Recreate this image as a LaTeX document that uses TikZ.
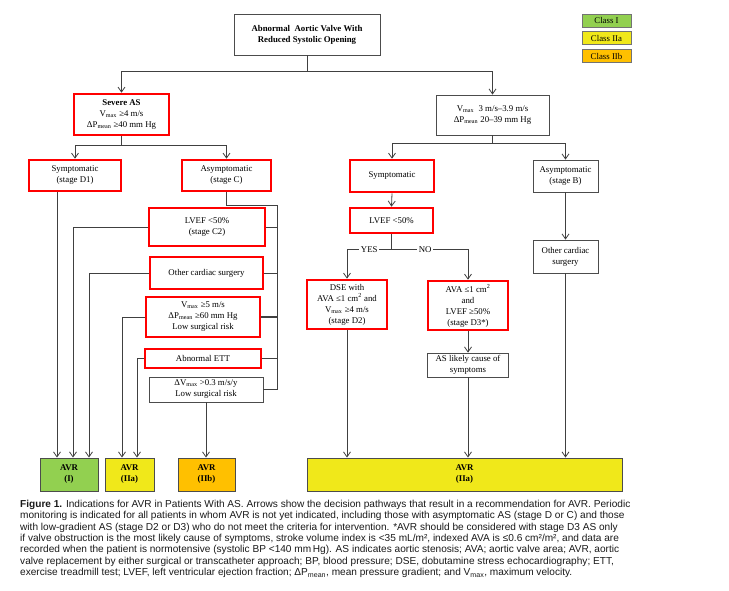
\documentclass[tikz,border=0pt]{standalone}
\usepackage{fontspec}
\setmainfont{Liberation Serif}
\newfontfamily\capfont{Liberation Sans}
\usepackage{xcolor}
\usetikzlibrary{arrows.meta}
\definecolor{clsI}{HTML}{92D050}
\definecolor{clsIIa}{HTML}{F0E81A}
\definecolor{clsIIb}{HTML}{FFC000}
\newcommand{\sbs}[1]{\textsubscript{#1}}

\begin{document}
\begin{tikzpicture}[x=1pt,y=-1pt,
  every node/.style={font=\fontsize{8.8}{11}\selectfont, align=center, inner sep=0pt},
  box/.style={draw=black!70, line width=0.8pt},
  redbox/.style={draw=red, line width=2.6pt},
  avr/.style={draw=black!70, line width=0.9pt, minimum height=33pt, font=\fontsize{8.8}{11}\selectfont\bfseries},
  lgd/.style={draw=black!55, line width=0.9pt, minimum width=49pt, minimum height=13pt},
  conn/.style={draw=black!75, line width=0.8pt},
  arr/.style={conn, -{Straight Barb[length=5pt,width=7pt]}}]
  \useasboundingbox (0,0) rectangle (729,590);

  % boxes
  \node[box, minimum width=146pt, minimum height=41pt, font=\fontsize{8.8}{11}\selectfont\bfseries] (top) at (307,34.5) {Abnormal\ \ Aortic Valve With\\Reduced Systolic Opening};
  \node[redbox, minimum width=95pt, minimum height=41pt] (severe) at (121.5,114.5) {\textbf{Severe AS}\\V\sbs{max} ≥4 m/s\\ΔP\sbs{mean} ≥40 mm Hg};
  \node[box, minimum width=113pt, minimum height=40pt] (moderate) at (492.5,115) {V\sbs{max}\ \ 3 m/s–3.9 m/s\\ΔP\sbs{mean} 20–39 mm Hg};
  \node[redbox, minimum width=92pt, minimum height=31pt] (sympD1) at (75,175.5) {Symptomatic\\(stage D1)};
  \node[redbox, minimum width=89pt, minimum height=31pt] (asympC) at (226.5,175.5) {Asymptomatic\\(stage C)};
  \node[redbox, minimum width=84pt, minimum height=32pt] (sympR) at (392,176) {Symptomatic};
  \node[box, minimum width=65pt, minimum height=32pt] (asympB) at (565.5,176) {Asymptomatic\\(stage B)};

  \node[redbox, minimum width=116pt, minimum height=38pt] (lvefC2) at (207,227) {LVEF <50\%\\(stage C2)};
  \node[redbox, minimum width=113pt, minimum height=32pt] (othsurgL) at (206.5,273) {Other cardiac surgery};
  \node[redbox, minimum width=114pt, minimum height=40pt] (vmax5) at (203,317) {V\sbs{max} ≥5 m/s\\ΔP\sbs{mean} ≥60 mm Hg\\Low surgical risk};
  \node[redbox, minimum width=116pt, minimum height=19pt] (ett) at (203,358.5) {Abnormal ETT};
  \node[box, minimum width=114pt, minimum height=25pt] (dvmax) at (206,389.5) {ΔV\sbs{max} >0.3 m/s/y\\Low surgical risk};

  \node[redbox, minimum width=83pt, minimum height=25pt] (lvefR) at (391.5,220.5) {LVEF <50\%};
  \node[redbox, minimum width=80pt, minimum height=49pt] (dse) at (347,304.5) {DSE with\\AVA ≤1 cm\textsuperscript{2} and\\V\sbs{max} ≥4 m/s\\(stage D2)};
  \node[redbox, minimum width=80pt, minimum height=49pt] (d3) at (468,305.5) {AVA ≤1 cm\textsuperscript{2}\\and\\LVEF ≥50\%\\(stage D3*)};
  \node[box, minimum width=81pt, minimum height=24pt] (aslikely) at (468,365) {AS likely cause of\\symptoms};
  \node[box, minimum width=65pt, minimum height=33pt] (othsurgR) at (565.5,256.5) {Other cardiac\\surgery};

  \node[avr, fill=clsI, minimum width=58pt] (avrI) at (69,474.5) {AVR\\(I)};
  \node[avr, fill=clsIIa, minimum width=49pt] (avrIIa) at (129.5,474.5) {AVR\\(IIa)};
  \node[avr, fill=clsIIb, minimum width=57pt] (avrIIb) at (206.5,474.5) {AVR\\(IIb)};
  \node[avr, fill=clsIIa, minimum width=315pt] (avrBig) at (464.5,474.5) {AVR\\(IIa)};

  % legend
  \node[lgd, fill=clsI] (lgI) at (606.5,20.5) {Class I};
  \node[lgd, fill=clsIIa] (lgIIa) at (606.5,38) {Class IIa};
  \node[lgd, fill=clsIIb] (lgIIb) at (606.5,56) {Class IIb};

  % connectors
  \draw[arr] (top.south) -- ++(0,16) coordinate (j1) -| (severe.north);
  \draw[arr] (j1) -| (moderate.north);
  \draw[arr] (severe.south) -- ++(0,9) coordinate (j2) -| (sympD1.north);
  \draw[arr] (j2) -| (asympC.north);
  \draw[arr] (moderate.south) -- ++(0,8) coordinate (j3) -| (sympR.north);
  \draw[arr] (j3) -| (asympB.north);

  \coordinate (bus) at (277,205);
  \draw[conn] (asympC.south) |- (bus) -- (bus |- dvmax.east);
  \foreach \n in {lvefC2,othsurgL,ett,dvmax}
    \draw[conn] (bus |- \n.east) -- (\n.east);
  \draw[conn, line width=1.8pt] (bus |- vmax5.east) -- (vmax5.east);

  \coordinate (aI1) at ([xshift=-12pt]avrI.north);
  \coordinate (aI2) at ([xshift=4pt]avrI.north);
  \coordinate (aI3) at ([xshift=20pt]avrI.north);
  \coordinate (aIIa1) at ([xshift=-7.5pt]avrIIa.north);
  \coordinate (aIIa2) at ([xshift=7.5pt]avrIIa.north);
  \draw[arr] (sympD1.south -| aI1) -- (aI1);
  \draw[arr] (lvefC2.west) -| (aI2);
  \draw[arr] (othsurgL.west) -| (aI3);
  \draw[arr] (vmax5.west) -| (aIIa1);
  \draw[arr] (ett.west) -| (aIIa2);
  \draw[arr] (dvmax.south) -- (dvmax.south |- avrIIb.north);

  \draw[arr] (sympR.south) -- (lvefR.north);
  \draw[arr] (lvefR.south) -- ++(0,15) coordinate (j4) -| node[pos=0.25, fill=white, inner xsep=1.5pt] {YES} (dse.north);
  \draw[arr] (j4) -| node[pos=0.22, fill=white, inner xsep=1.5pt] {NO} (d3.north);
  \draw[arr] (d3.south) -- (aslikely.north);
  \draw[arr] (aslikely.south) -- (aslikely.south |- avrBig.north);
  \draw[arr] (dse.south) -- (dse.south |- avrBig.north);
  \draw[arr] (asympB.south) -- (othsurgR.north);
  \draw[arr] (othsurgR.south) -- (othsurgR.south |- avrBig.north);

  % caption
  \node[anchor=north west, align=left, text=black!90, font=\capfont\fontsize{10.1}{11.33}\selectfont] (cap) at (20,500) {%
    \textbf{Figure 1.} Indications for AVR in Patients With AS. Arrows show the decision pathways that result in a recommendation for AVR. Periodic\\
    monitoring is indicated for all patients in whom AVR is not yet indicated, including those with asymptomatic AS (stage D or C) and those\\
    with low-gradient AS (stage D2 or D3) who do not meet the criteria for intervention. *AVR should be considered with stage D3 AS only\\
    if valve obstruction is the most likely cause of symptoms, stroke volume index is <35 mL/m², indexed AVA is ≤0.6 cm²/m², and data are\\
    recorded when the patient is normotensive (systolic BP <140 mm\,Hg). AS indicates aortic stenosis; AVA; aortic valve area; AVR, aortic\\
    valve replacement by either surgical or transcatheter approach; BP, blood pressure; DSE, dobutamine stress echocardiography; ETT,\\
    exercise treadmill test; LVEF, left ventricular ejection fraction; ΔP\sbs{mean}, mean pressure gradient; and V\sbs{max}, maximum velocity.};
\end{tikzpicture}
\end{document}
